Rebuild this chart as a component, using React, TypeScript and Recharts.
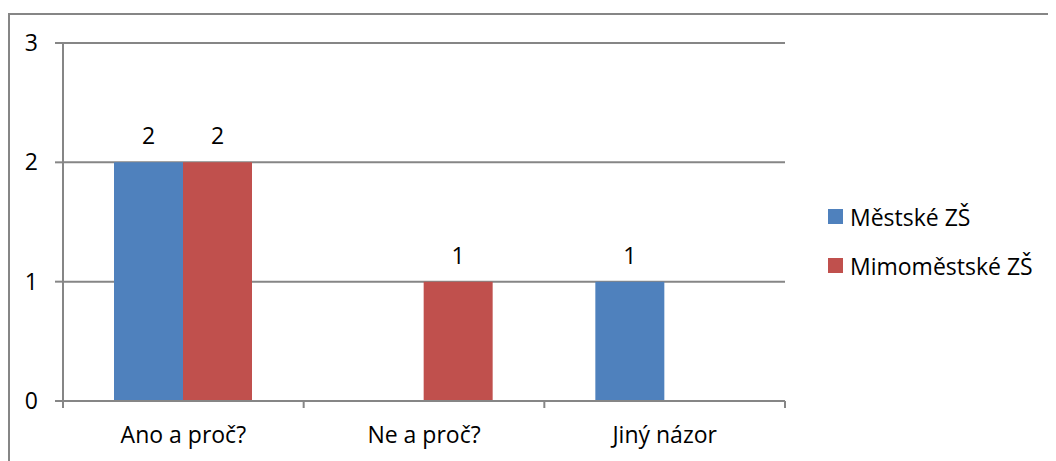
import React from 'react';
import { BarChart, Bar, XAxis, YAxis, CartesianGrid, LabelList } from 'recharts';

const categories = ['Ano a proč?', 'Ne a proč?', 'Jiný názor'];
const mestske = [2, 0, 1];
const mimomestske = [2, 1, 0];
const yTicks = [0, 1, 2, 3];

const series = [
  { key: 'mestske', name: 'Městské ZŠ', color: '#4F81BD' },
  { key: 'mimomestske', name: 'Mimoměstské ZŠ', color: '#C0504D' },
];

const data = categories.map((name, i) => ({ name, mestske: mestske[i], mimomestske: mimomestske[i] }));

const FONT = '"Open Sans", sans-serif';
const FS = 23;
const AXIS = '#868686';
const TICK_SIZE = 7;
const TICK_MARGIN = 19;

// label at the center, tick marks at the category boundaries (Excel style)
const CategoryTick = (props: any) => {
  const { x, y, payload, index } = props;
  const half = payload?.offset ?? 120;
  const axisY = y - TICK_SIZE - TICK_MARGIN;
  return (
    <g>
      <line x1={x - half} x2={x - half} y1={axisY} y2={axisY + TICK_SIZE} stroke={AXIS} strokeWidth={2} />
      {index === categories.length - 1 && (
        <line x1={x + half} x2={x + half} y1={axisY} y2={axisY + TICK_SIZE} stroke={AXIS} strokeWidth={2} />
      )}
      <text x={x} y={y} dy="0.71em" textAnchor="middle" fill="#000" fontSize={FS} fontFamily={FONT}>
        {payload.value}
      </text>
    </g>
  );
};

export default function App() {
  return (
    <div style={{ marginTop: 5, width: 1060, height: 460, border: `2px solid ${AXIS}`, position: 'relative' }}>
      <BarChart
        width={1040}
        height={440}
        data={data}
        margin={{ top: 28, right: 265, bottom: 0, left: 0 }}
        barGap={0}
        barSize={69}
      >
        <CartesianGrid vertical={false} stroke={AXIS} strokeWidth={2} />
        <XAxis
          dataKey="name"
          height={54}
          axisLine={{ stroke: AXIS, strokeWidth: 2 }}
          tickLine={false}
          tickSize={TICK_SIZE}
          tickMargin={TICK_MARGIN}
          tick={<CategoryTick />}
          interval={0}
        />
        <YAxis
          width={53}
          domain={[0, 3]}
          ticks={yTicks}
          axisLine={{ stroke: AXIS, strokeWidth: 2 }}
          tickLine={{ stroke: AXIS, strokeWidth: 2 }}
          tickSize={8}
          tickMargin={17}
          tick={{ fill: '#000', fontSize: FS, fontFamily: FONT }}
        />
        {series.map((s) => (
          <Bar key={s.key} dataKey={s.key} name={s.name} fill={s.color} isAnimationActive={false}>
            <LabelList dataKey={s.key} position="top" offset={18} fill="#000" fontSize={FS} fontFamily={FONT}
              formatter={(v: any) => (v ? v : '')} />
          </Bar>
        ))}
      </BarChart>
      <div style={{ position: 'absolute', left: 818, top: 177, fontFamily: FONT, fontSize: FS, color: '#000' }}>
        {series.map((s) => (
          <div key={s.key} style={{ display: 'flex', alignItems: 'center', height: 49 }}>
            <span style={{ width: 15, height: 15, background: s.color, marginRight: 7, display: 'inline-block' }} />
            <span>{s.name}</span>
          </div>
        ))}
      </div>
    </div>
  );
}
